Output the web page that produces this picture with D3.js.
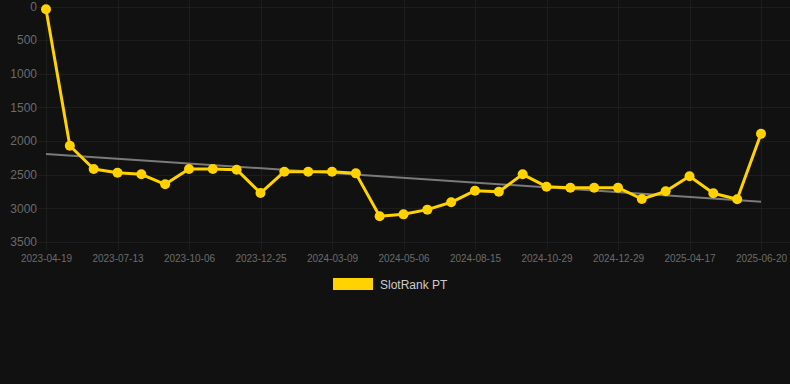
<!DOCTYPE html>
<html>
<head>
<meta charset="utf-8">
<script src="https://cdn.jsdelivr.net/npm/d3@7"></script>
<style>
  html, body { margin: 0; padding: 0; background: #111111; }
  svg { display: block; font-family: "Liberation Sans", Arial, sans-serif; }
</style>
</head>
<body>
<svg id="chart" width="790" height="384"></svg>
<script>
// 31 samples, dates only known for every third one (the labelled ticks)
const tickLabels = [
  '2023-04-19', '2023-07-13', '2023-10-06', '2023-12-25', '2024-03-09', '2024-05-06',
  '2024-08-15', '2024-10-29', '2024-12-29', '2025-04-17', '2025-06-20'
];
const rankValues = [
  42, 2069, 2415, 2470, 2494, 2643, 2415, 2415, 2425, 2772,
  2455, 2455, 2455, 2480, 3118, 3089, 3019, 2910, 2737, 2752,
  2494, 2678, 2693, 2693, 2693, 2861, 2747, 2524, 2776, 2865,
  1890
];
const trendValues = [2192, 2901];
const yTicks = [0, 500, 1000, 1500, 2000, 2500, 3000, 3500];
const seriesName = 'SlotRank PT';

const GOLD = '#ffd200';
const chartWidth = 790;
const plot = { left: 46, right: 761, top: 6.5, bottom: 242 };

const svg = d3.select('#chart');

const indices = rankValues.map((_, i) => i);
const xScale = d3.scalePoint(indices, [plot.left, plot.right]);
const yScale = d3.scaleLinear([0, 3500], [plot.top, plot.bottom]);

/* grid lines */
const grid = svg.append('g').attr('stroke', '#1d1d1d').attr('stroke-width', 1);
grid.selectAll('.h')
  .data(yTicks)
  .enter()
  .append('line')
  .attr('x1', 38)
  .attr('x2', chartWidth)
  .attr('y1', d => Math.round(yScale(d)) + 0.5)
  .attr('y2', d => Math.round(yScale(d)) + 0.5);
grid.selectAll('.v')
  .data(indices.filter(i => i % 3 === 0))
  .enter()
  .append('line')
  .attr('x1', d => Math.round(xScale(d)) + 0.5)
  .attr('x2', d => Math.round(xScale(d)) + 0.5)
  .attr('y1', 0)
  .attr('y2', 250);

/* left axis */
svg.append('g')
  .attr('transform', `translate(${plot.left}, 0)`)
  .call(d3.axisLeft(yScale).tickValues(yTicks).tickFormat(d3.format('d')).tickSize(0).tickPadding(9))
  .call(g => g.select('.domain').remove())
  .selectAll('text')
  .attr('fill', '#6b6b6b')
  .attr('font-size', 12)
  .attr('font-family', '"Liberation Sans", Arial, sans-serif');

/* bottom axis */
svg.append('g')
  .attr('transform', `translate(0, ${plot.bottom})`)
  .call(
    d3.axisBottom(xScale)
      .tickValues(indices.filter(i => i % 3 === 0))
      .tickFormat(d => tickLabels[d / 3])
      .tickSize(0)
      .tickPadding(13)
  )
  .call(g => g.select('.domain').remove())
  .selectAll('text')
  .attr('fill', '#6b6b6b')
  .attr('font-size', 10)
  .attr('font-family', '"Liberation Sans", Arial, sans-serif');

/* trend line */
svg.append('path')
  .attr('fill', 'none')
  .attr('stroke', '#7a7a7a')
  .attr('stroke-width', 2)
  .attr('d', d3.line()
    .x((d, i) => xScale(i === 0 ? 0 : indices.length - 1))
    .y(d => yScale(d))(trendValues));

/* series line */
svg.append('path')
  .attr('fill', 'none')
  .attr('stroke', GOLD)
  .attr('stroke-width', 3)
  .attr('stroke-linejoin', 'round')
  .attr('d', d3.line()
    .x((d, i) => xScale(i))
    .y(d => yScale(d))(rankValues));

svg.append('g')
  .selectAll('circle')
  .data(rankValues)
  .enter()
  .append('circle')
  .attr('r', 5)
  .attr('fill', GOLD)
  .attr('cx', (d, i) => xScale(i))
  .attr('cy', d => yScale(d));

/* legend */
const legend = svg.append('g');
legend.append('rect')
  .attr('x', 333)
  .attr('y', 278)
  .attr('width', 40)
  .attr('height', 12)
  .attr('fill', GOLD);
legend.append('text')
  .attr('x', 380)
  .attr('y', 288.5)
  .attr('fill', '#cccccc')
  .attr('font-size', 12)
  .text(seriesName);
</script>
</body>
</html>
